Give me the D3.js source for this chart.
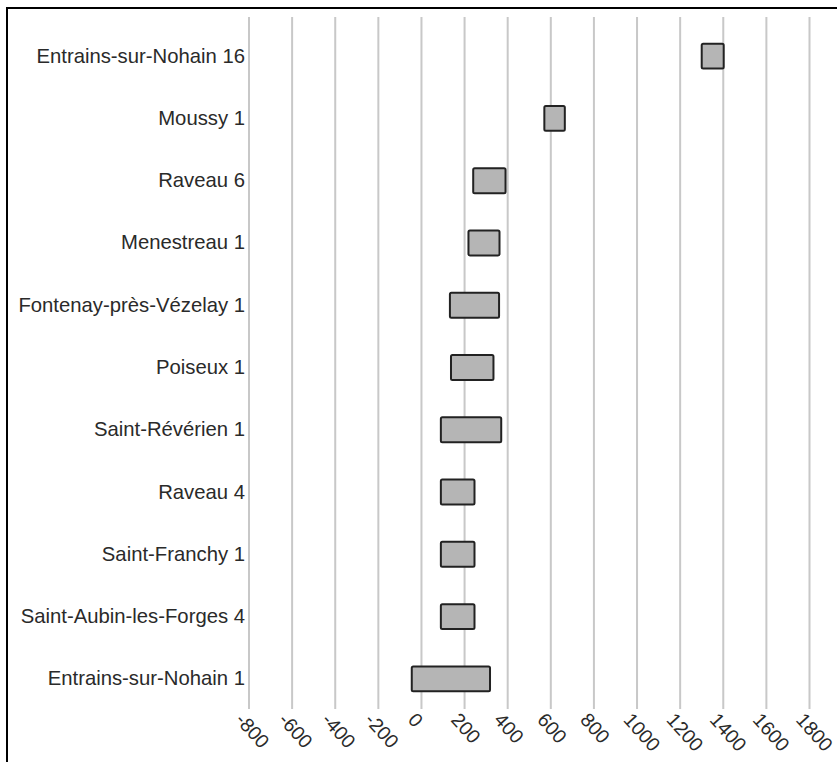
<!DOCTYPE html>
<html>
<head>
<meta charset="utf-8">
<script src="https://cdn.jsdelivr.net/npm/d3@7"></script>
<style>
  body { margin: 0; background: #fff; }
</style>
</head>
<body>
<div id="chart"></div>
<script>
var width = 837,
    height = 762;

// DATA
var sites = ["Entrains-sur-Nohain 16", "Moussy 1", "Raveau 6", "Menestreau 1",
    "Fontenay-près-Vézelay 1", "Poiseux 1", "Saint-Révérien 1", "Raveau 4",
    "Saint-Franchy 1", "Saint-Aubin-les-Forges 4", "Entrains-sur-Nohain 1"];
var startValues = [1300, 570, 240, 218, 132, 137, 90, 90, 90, 90, -45];
var endValues = [1402, 665, 390, 362, 360, 334, 370, 246, 246, 246, 318];
var tickValues = [-800, -600, -400, -200, 0, 200, 400, 600, 800, 1000, 1200, 1400, 1600, 1800];

var bars = sites.map(function(s, i) {
    return {site: s, start: startValues[i], end: endValues[i]};
});

var svg = d3.select("#chart").append("svg")
    .attr("width", width)
    .attr("height", height);

// frame
svg.append("rect")
    .attr("x", 7)
    .attr("y", 8)
    .attr("width", width + 20)
    .attr("height", height + 20)
    .attr("fill", "white")
    .attr("stroke", "black")
    .attr("stroke-width", 2);

var x = d3.scaleLinear()
    .domain([-800, 1800])
    .range([249, 809.5]);

var y = d3.scaleBand()
    .domain(sites)
    .range([25, 710])
    .paddingInner(0.6)
    .paddingOuter(0.3);

// GRID
svg.append("g")
    .attr("class", "grid")
    .selectAll("line")
    .data(tickValues)
    .enter()
    .append("line")
    .attr("x1", function(d) { return x(d); })
    .attr("x2", function(d) { return x(d); })
    .attr("y1", 17)
    .attr("y2", 709)
    .attr("stroke", "#c8c8c8")
    .attr("stroke-width", 2);

// X AXIS labels
var xAxis = svg.append("g")
    .attr("class", "x-axis")
    .attr("transform", "translate(0,709)")
    .call(d3.axisBottom(x).tickValues(tickValues).tickSize(0).tickFormat(d3.format("d")));

xAxis.select(".domain").remove();
xAxis.selectAll("text")
    .attr("font-family", "Liberation Sans, Arial, sans-serif")
    .attr("font-size", 19.5)
    .attr("fill", "#2a2a2a")
    .attr("text-anchor", "start")
    .attr("y", 0)
    .attr("dy", "0.35em")
    .attr("transform", "translate(-10,7) rotate(48)")
    .text(function(d) { return d < 0 ? "-" + Math.abs(d) : d; });

// Y AXIS labels
var yAxis = svg.append("g")
    .attr("class", "y-axis")
    .attr("transform", "translate(245,0)")
    .call(d3.axisLeft(y).tickSize(0).tickPadding(0));

yAxis.select(".domain").remove();
yAxis.selectAll("text")
    .attr("font-family", "Liberation Sans, Arial, sans-serif")
    .attr("font-size", 20.3)
    .attr("fill", "#2a2a2a");

// BARS
svg.append("g")
    .attr("class", "bars")
    .selectAll("rect")
    .data(bars)
    .enter()
    .append("rect")
    .attr("x", function(d) { return x(d.start); })
    .attr("y", function(d) { return y(d.site); })
    .attr("width", function(d) { return x(d.end) - x(d.start); })
    .attr("height", y.bandwidth())
    .attr("rx", 1.5)
    .attr("fill", "#b5b5b5")
    .attr("stroke", "#222")
    .attr("stroke-width", 2);
</script>
</body>
</html>
